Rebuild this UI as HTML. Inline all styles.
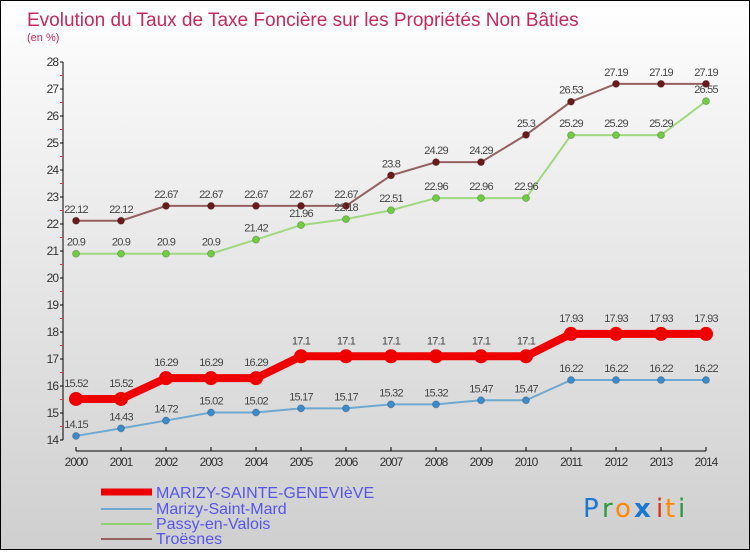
<!DOCTYPE html>
<html><head><meta charset="utf-8"><style>
html,body{margin:0;padding:0}
body{width:750px;height:550px;overflow:hidden;font-family:"Liberation Sans",sans-serif}
#c{position:absolute;left:0;top:0;width:748px;height:548px;border:1px solid #000;background:linear-gradient(#ffffff,#f4f4f4 20%,#cfcfcf)}
</style></head><body>
<div id="c">
<svg id="s" width="748" height="548" xmlns="http://www.w3.org/2000/svg">
<text x="26" y="25" font-size="19" fill="#c8285a">Evolution du Taux de Taxe Foncière sur les Propriétés Non Bâties</text>
<text x="26" y="40" font-size="11" fill="#c8285a">(en %)</text>
<g id="plot"></g>
<g id="legend">
<line x1="100" y1="491" x2="151" y2="491" stroke="#e00" stroke-width="7"/>
<text x="155" y="497" font-size="16" fill="#5555ee">MARIZY-SAINTE-GENEVIèVE</text>
<line x1="100" y1="508" x2="151" y2="508" stroke="#6fa8d0" stroke-width="2"/>
<text x="155" y="513" font-size="16" fill="#5555ee">Marizy-Saint-Mard</text>
<line x1="100" y1="523" x2="151" y2="523" stroke="#90d070" stroke-width="2"/>
<text x="155" y="528" font-size="16" fill="#5555ee">Passy-en-Valois</text>
<line x1="100" y1="538" x2="151" y2="538" stroke="#956060" stroke-width="2"/>
<text x="155" y="543" font-size="16" fill="#5555ee">Troësnes</text>
</g>
<g font-size="26" font-family="'DejaVu Sans',sans-serif">
<text x="582" y="516" fill="#1a78d0">P</text><text x="601" y="516" fill="#2a9a3a">r</text><text x="614" y="516" fill="#ff8800">o</text><text x="633" y="516" fill="#1a78d0" font-weight="bold">x</text><text x="655" y="516" fill="#e03010">i</text><text x="664" y="516" fill="#ff8800">t</text><text x="677" y="516" fill="#2a9a3a">i</text>
</g>
</svg></div>
<script>
const years=[2000,2001,2002,2003,2004,2005,2006,2007,2008,2009,2010,2011,2012,2013,2014];
const yTicks=[14,15,16,17,18,19,20,21,22,23,24,25,26,27,28];
const marizySte=[15.52,15.52,16.29,16.29,16.29,17.1,17.1,17.1,17.1,17.1,17.1,17.93,17.93,17.93,17.93];
const marizyMard=[14.15,14.43,14.72,15.02,15.02,15.17,15.17,15.32,15.32,15.47,15.47,16.22,16.22,16.22,16.22];
const passy=[20.9,20.9,20.9,20.9,21.42,21.96,22.18,22.51,22.96,22.96,22.96,25.29,25.29,25.29,26.55];
const troesnes=[22.12,22.12,22.67,22.67,22.67,22.67,22.67,23.8,24.29,24.29,25.3,26.53,27.19,27.19,27.19];
const NS="http://www.w3.org/2000/svg";
const g=document.getElementById('plot');
const X=i=>75+i*45;
const Y=v=>439-(v-14)*27;
function mk(t,a){const e=document.createElementNS(NS,t);for(const k in a)e.setAttribute(k,a[k]);g.appendChild(e);return e;}
let e=mk('line',{x1:62,y1:Y(28),x2:62,y2:Y(14),stroke:'#000'});


e=mk('line',{x1:75,y1:450,x2:X(14),y2:450,stroke:'#000'});


yTicks.forEach(v=>{
  mk('line',{x1:59,y1:Y(v),x2:62,y2:Y(v),stroke:'#000'});
  if(v<28){mk('line',{x1:59,y1:Y(v+0.5),x2:62,y2:Y(v+0.5),stroke:'#e33'});}
  const t=mk('text',{x:57,y:Y(v)+4,'font-size':12,fill:'#333','text-anchor':'end','letter-spacing':'-1'});
  t.textContent=v;
  
  
});
years.forEach((y,i)=>{
  mk('line',{x1:X(i),y1:446,x2:X(i),y2:450,stroke:'#000'});
  const t=mk('text',{x:X(i),y:465,'font-size':12,fill:'#333','text-anchor':'middle','letter-spacing':'-1'});
  t.textContent=y;
  
  
});
function series(vals,color,dot,w,r,name){
  const p=mk('polyline',{points:vals.map((v,i)=>X(i)+','+Y(v)).join(' '),fill:'none',stroke:color,'stroke-width':w});
  
  
  vals.forEach((v,i)=>{
    const c=mk('circle',{cx:X(i),cy:Y(v),r:r,fill:dot,stroke:r>4?'none':'#0003'});
    
    
    const t=mk('text',{x:X(i),y:Y(v)-(r>4?12:8),'font-size':11,fill:'#444','text-anchor':'middle','letter-spacing':'-0.8'});
    t.textContent=v;
    
    
  });
}
series(troesnes,'#956060','#6a1a1a',2,3.5,'troesnes');
series(passy,'#a0d880','#70cc40',2,3.5,'passy-en-valois');
series(marizyMard,'#6fa8d0','#3a8ccc',2,3.5,'marizy-saint-mard');
series(marizySte,'#ee0000','#ee0000',8,7,'marizy-sainte-genevieve');
</script>
</body></html>
